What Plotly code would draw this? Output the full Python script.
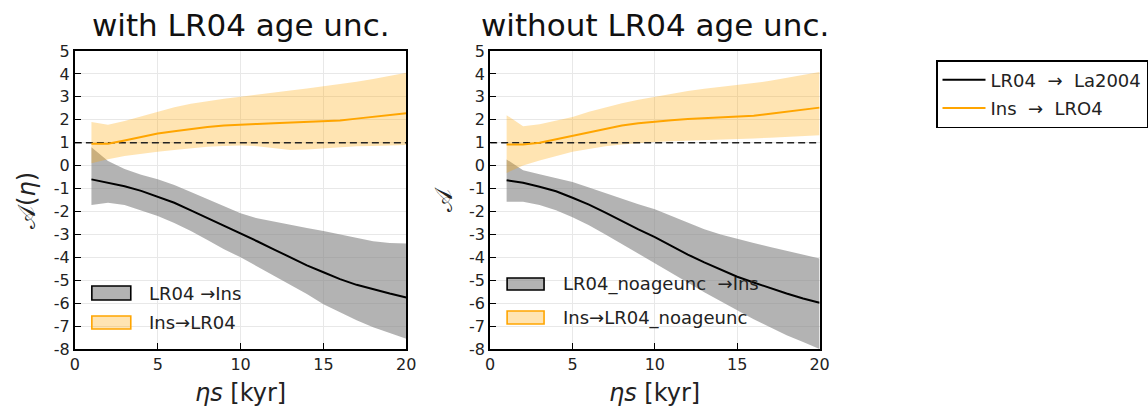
import plotly.graph_objects as go

# ---- data ----
eta = list(range(1, 21))

# left panel: with LR04 age uncertainty
L_gray_mean = [-0.60, -0.75, -0.90, -1.10, -1.35, -1.62, -1.95, -2.28, -2.62, -2.95,
               -3.30, -3.65, -4.00, -4.35, -4.65, -4.95, -5.20, -5.40, -5.58, -5.75]
L_gray_up = [0.80, 0.20, -0.15, -0.40, -0.60, -0.85, -1.15, -1.45, -1.78, -2.08,
             -2.30, -2.45, -2.60, -2.72, -2.85, -3.00, -3.15, -3.30, -3.38, -3.40]
L_gray_lo = [-1.72, -1.62, -1.72, -1.95, -2.20, -2.50, -2.85, -3.25, -3.65, -4.00,
             -4.40, -4.80, -5.20, -5.60, -6.05, -6.40, -6.75, -7.05, -7.30, -7.55]
L_or_mean = [0.95, 0.95, 1.10, 1.25, 1.40, 1.50, 1.60, 1.68, 1.75, 1.80,
             1.82, 1.85, 1.88, 1.92, 1.95, 1.97, 2.05, 2.12, 2.20, 2.28]
L_or_up = [1.90, 1.78, 1.95, 2.15, 2.35, 2.55, 2.70, 2.82, 2.92, 3.00,
           3.10, 3.20, 3.28, 3.36, 3.45, 3.55, 3.66, 3.78, 3.90, 4.05]
L_or_lo = [0.10, 0.28, 0.42, 0.52, 0.60, 0.68, 0.76, 0.82, 0.86, 0.88,
           0.85, 0.78, 0.68, 0.70, 0.75, 0.80, 0.84, 0.86, 0.88, 0.90]

# right panel: without LR04 age uncertainty
R_gray_mean = [-0.64, -0.75, -0.92, -1.12, -1.40, -1.70, -2.05, -2.42, -2.78, -3.12,
               -3.50, -3.88, -4.22, -4.55, -4.85, -5.10, -5.35, -5.58, -5.80, -5.98]
R_gray_up = [0.27, -0.20, -0.38, -0.55, -0.72, -0.95, -1.20, -1.45, -1.68, -1.90,
             -2.20, -2.50, -2.78, -3.00, -3.20, -3.38, -3.55, -3.72, -3.88, -4.05]
R_gray_lo = [-1.58, -1.58, -1.72, -1.95, -2.25, -2.60, -3.00, -3.42, -3.85, -4.28,
             -4.70, -5.12, -5.52, -5.92, -6.32, -6.70, -7.05, -7.40, -7.70, -8.00]
R_or_mean = [0.92, 0.92, 1.00, 1.15, 1.33, 1.48, 1.62, 1.75, 1.85, 1.93,
             1.98, 2.03, 2.06, 2.09, 2.12, 2.18, 2.26, 2.34, 2.43, 2.53]
R_or_up = [2.20, 1.72, 1.80, 1.95, 2.12, 2.35, 2.55, 2.72, 2.87, 3.00,
           3.13, 3.25, 3.35, 3.43, 3.50, 3.60, 3.70, 3.82, 3.95, 4.08]
R_or_lo = [-0.32, 0.00, 0.22, 0.42, 0.60, 0.72, 0.84, 0.92, 0.98, 1.03,
           1.06, 1.08, 1.10, 1.12, 1.14, 1.18, 1.22, 1.26, 1.30, 1.33]

ref_level = 1
x_ticks = [0, 5, 10, 15, 20]
y_ticks = list(range(-8, 6))
y_ticklabels = [str(v) for v in y_ticks]

titles = ["with LR04 age unc.", "without LR04 age unc."]
ytitles = ["𝒜(<i>η</i>)", "𝒜"]
xtitle = "<i>ηs</i> [kyr]"
band_labels_left = ["LR04\u00a0→Ins", "Ins→LR04"]
band_labels_right = ["LR04_noageunc\u00a0\u00a0→Ins", "Ins→LR04_noageunc"]
line_labels = ["LR04\u00a0\u00a0→\u00a0\u00a0La2004", "Ins\u00a0\u00a0→\u00a0\u00a0LRO4"]

# ---- style ----
W, H = 1148, 411
FONT = "DejaVu Sans"
GRAY_FILL = "rgba(128,128,128,0.6)"
OR_FILL = "rgba(255,165,0,0.3)"
ORANGE = "#FFA500"
BLACK = "#000000"
TXT = "#222222"


def px(x):
    return x / W


def py(y):
    return 1 - y / H


fig = go.Figure()

panels = [
    (L_gray_mean, L_gray_up, L_gray_lo, L_or_mean, L_or_up, L_or_lo, "x", "y"),
    (R_gray_mean, R_gray_up, R_gray_lo, R_or_mean, R_or_up, R_or_lo, "x2", "y2"),
]

for i, (gm, gu, gl, om, ou, ol, xa, ya) in enumerate(panels):
    # gray band
    fig.add_trace(go.Scatter(x=eta, y=gu, mode="lines", line=dict(width=0),
                             showlegend=False, hoverinfo="skip", xaxis=xa, yaxis=ya))
    fig.add_trace(go.Scatter(x=eta, y=gl, mode="lines", line=dict(width=0),
                             fill="tonexty", fillcolor=GRAY_FILL,
                             showlegend=False, hoverinfo="skip", xaxis=xa, yaxis=ya))
    # orange band
    fig.add_trace(go.Scatter(x=eta, y=ou, mode="lines", line=dict(width=0),
                             showlegend=False, hoverinfo="skip", xaxis=xa, yaxis=ya))
    fig.add_trace(go.Scatter(x=eta, y=ol, mode="lines", line=dict(width=0),
                             fill="tonexty", fillcolor=OR_FILL,
                             showlegend=False, hoverinfo="skip", xaxis=xa, yaxis=ya))
    # reference dashed line
    fig.add_trace(go.Scatter(x=[x_ticks[0], x_ticks[-1]], y=[ref_level, ref_level],
                             mode="lines", line=dict(color="#222222", width=1.6, dash="7px,4px"),
                             showlegend=False, hoverinfo="skip", xaxis=xa, yaxis=ya))
    # mean lines
    fig.add_trace(go.Scatter(x=eta, y=gm, mode="lines", line=dict(color=BLACK, width=2),
                             name=line_labels[0], showlegend=(i == 0), legendgroup="a",
                             xaxis=xa, yaxis=ya))
    fig.add_trace(go.Scatter(x=eta, y=om, mode="lines", line=dict(color=ORANGE, width=2),
                             name=line_labels[1], showlegend=(i == 0), legendgroup="b",
                             xaxis=xa, yaxis=ya))

axis_common = dict(
    showline=True, linecolor=BLACK, linewidth=1.8, mirror=True,
    ticks="inside", ticklen=6, tickwidth=1.2, tickcolor=BLACK,
    showgrid=True, gridcolor="#e8e8e8", gridwidth=1, zeroline=False,
    automargin=False,
    tickfont=dict(family=FONT, size=16, color=TXT),
)

xdom = [[px(75), px(407)], [px(491), px(821)]]
ydom = [py(349), py(51)]

for i in range(2):
    sfx = "" if i == 0 else str(i + 1)
    fig.update_layout(**{
        "xaxis" + sfx: dict(axis_common, domain=xdom[i], range=[0, 20], tickvals=x_ticks,
                            anchor="y" + sfx),
        "yaxis" + sfx: dict(axis_common, domain=ydom, range=[-8, 5], tickvals=y_ticks,
                            ticktext=y_ticklabels, anchor="x" + sfx),
    })

annotations = []
shapes = []
# titles and axis titles
for i, t in enumerate(titles):
    cx = (xdom[i][0] + xdom[i][1]) / 2
    annotations.append(dict(text=t, x=cx, y=py(25), xref="paper", yref="paper",
                            xanchor="center", yanchor="middle", showarrow=False,
                            font=dict(family=FONT, size=31, color="#111111")))
    annotations.append(dict(text=xtitle, x=cx, y=py(393), xref="paper", yref="paper",
                            xanchor="center", yanchor="middle", showarrow=False,
                            font=dict(family=FONT, size=24, color=TXT)))
ytitle_x = [27, 445]
for i, t in enumerate(ytitles):
    annotations.append(dict(text=t, x=px(ytitle_x[i]), y=py(200), xref="paper", yref="paper",
                            xanchor="center", yanchor="middle", showarrow=False, textangle=-90,
                            font=dict(family=FONT, size=24, color=TXT)))

# in-panel legends (drawn manually)
leg_specs = [
    (92, 131, [(286, 300), (316, 329)], 147, band_labels_left),
    (508, 545, [(278, 290), (311, 324)], 562, band_labels_right),
]
for x0, x1, rows, tx, labels in leg_specs:
    for j, (y0, y1) in enumerate(rows):
        fill = GRAY_FILL if j == 0 else OR_FILL
        lc = BLACK if j == 0 else ORANGE
        shapes.append(dict(type="rect", xref="paper", yref="paper",
                           x0=px(x0), x1=px(x1), y0=py(y1), y1=py(y0),
                           fillcolor=fill, line=dict(color=lc, width=1.6)))
        annotations.append(dict(text=labels[j], x=px(tx), y=py((y0 + y1) / 2),
                                xref="paper", yref="paper", xanchor="left", yanchor="middle",
                                showarrow=False,
                                font=dict(family=FONT, size=18, color=TXT)))

fig.update_layout(
    width=W, height=H,
    margin=dict(l=0, r=0, t=0, b=0),
    paper_bgcolor="white", plot_bgcolor="white",
    font=dict(family=FONT, color=TXT),
    annotations=annotations,
    shapes=shapes,
    showlegend=True,
    legend=dict(x=px(938), y=py(60), xanchor="left", yanchor="top",
                bordercolor=BLACK, borderwidth=1.5, bgcolor="white",
                font=dict(family=FONT, size=18, color=TXT),
                traceorder="grouped", tracegroupgap=2, itemwidth=43),
)

fig.write_html("out.html")
